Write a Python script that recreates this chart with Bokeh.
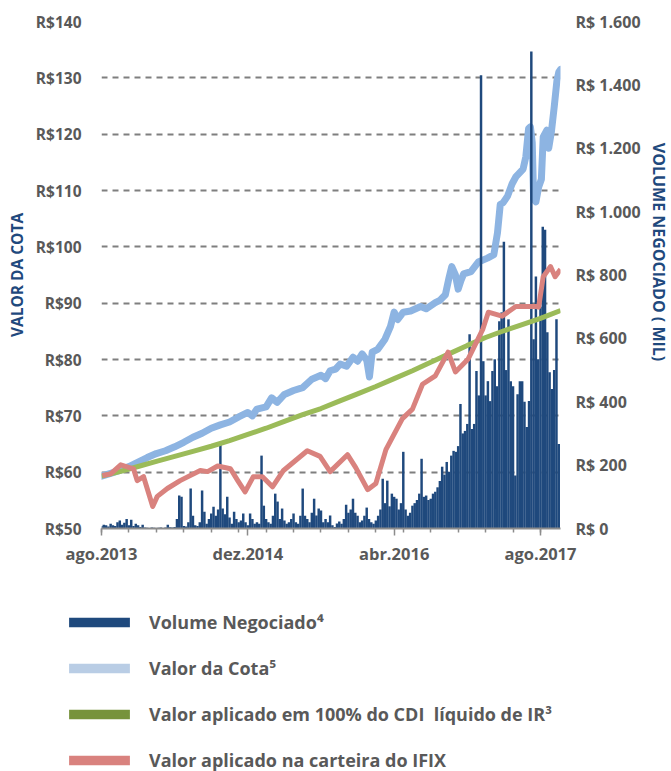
import math
from bokeh.plotting import figure
from bokeh.layouts import column, row
from bokeh.models import (Range1d, LinearAxis, FixedTicker, Legend, LegendItem, Label)
from bokeh.embed import file_html
from bokeh.resources import INLINE

# ---------------- data ----------------
# x axis: months since ago.2013
x_tick_months = [0, 16, 32, 48]
x_tick_labels = ["ago.2013", "dez.2014", "abr.2016", "ago.2017"]
x_minor_months = [0, 3, 6, 9, 12, 15, 18, 21, 24, 27, 30, 33, 36, 39, 42, 45, 48]

left_ticks = [50, 60, 70, 80, 90, 100, 110, 120, 130, 140]
left_labels = ["R$50", "R$60", "R$70", "R$80", "R$90", "R$100", "R$110", "R$120", "R$130", "R$140"]
right_ticks = [0, 200, 400, 600, 800, 1000, 1200, 1400, 1600]
right_labels = ["R$ 0", "R$ 200", "R$ 400", "R$ 600", "R$ 800", "R$ 1.000", "R$ 1.200", "R$ 1.400", "R$ 1.600"]

# weekly traded volume (R$ mil), one value per week from ago.2013
volume = [
    8, 12, 10, 6, 15, 10, 8, 20, 25, 12, 18, 30, 10, 28, 8, 15,
    10, 5, 12, 3, 2, 0, 3, 2, 0, 2, 3, 1,
    3, 12, 4, 3, 5, 30, 104, 100,
    8, 6, 20, 126, 40, 10, 8, 20, 120, 53, 15, 30,
    47, 69, 40, 60, 274, 63, 45, 100, 35, 15, 53, 30,
    20, 25, 47, 20, 10, 47, 30, 15, 20, 15, 230, 72,
    30, 20, 15, 40, 110, 85, 30, 63, 25, 15, 20, 30,
    47, 20, 15, 40, 126, 40, 30, 20, 50, 94, 41, 63,
    57, 20, 30, 20, 41, 10, 5, 16, 22, 15, 30, 75,
    50, 60, 94, 50, 40, 20, 25, 40, 66, 30, 20, 15,
    25, 40, 60, 157, 80, 151, 70, 110, 100, 94, 60, 80,
    242, 60, 40, 50, 72, 80, 90, 110, 220, 100, 104, 90,
    94, 110, 116, 130, 150, 195, 170, 210, 179, 230, 245, 242,
    260, 393, 300, 308, 330, 613, 314, 330, 497, 420, 1430, 528,
    420, 465, 402, 497, 534, 449, 654, 682, 905, 500, 660, 465,
    449, 167, 424, 465, 465, 400, 320, 402, 1505, 597, 795, 534,
    700, 952, 943, 619, 493, 440, 500, 660, 267,
]
volume_month = [i * 0.25 for i in range(len(volume))]

cota_month = [0, 1, 2, 3, 4, 5, 6, 7, 8, 9, 10, 11, 12, 13, 14, 15, 16, 16.5, 17, 18,
              18.6, 19.2, 20, 21, 22, 23, 24, 24.5, 25, 25.6, 26.1, 26.8, 27.5, 28, 28.5,
              29, 29.3, 29.6, 30.2, 31.0, 31.6, 32.0, 32.4, 33, 33.8, 34.9, 35.5, 36.5,
              37.0, 37.6, 38.0, 38.3, 38.7, 39.0, 39.3, 39.6, 40.4, 41.2, 42.2, 42.9,
              43.3, 43.6, 43.9, 44.4, 44.9, 45.3, 46.1, 46.4, 46.7, 46.9, 47.1, 47.25,
              47.5, 47.8, 48.1, 48.3, 48.7, 48.9, 49.2, 49.5, 49.8, 50.0, 50.2]
cota_value = [59.3, 59.8, 60.3, 61.0, 61.8, 62.6, 63.3, 63.8, 64.5, 65.3, 66.2, 66.9, 67.8,
              68.4, 68.9, 69.8, 70.6, 70.0, 71.2, 71.6, 73.2, 72.4, 73.8, 74.5, 75.0, 76.5,
              77.2, 76.6, 78.0, 78.3, 79.2, 78.8, 80.4, 79.7, 81.0, 79.9, 76.9, 81.3, 81.8,
              83.6, 85.9, 88.4, 87.1, 88.4, 88.6, 89.4, 89.0, 90.1, 90.5, 91.5, 94.5, 96.5,
              95.0, 92.5, 94.0, 95.2, 95.6, 97.3, 98.0, 98.6, 102.5, 107.5, 107.8, 109.0,
              111.2, 112.4, 113.8, 116.0, 121.0, 121.3, 118.5, 108.5, 108.0, 110.6, 112.0,
              119.5, 120.7, 117.5, 120.5, 124.8, 129.5, 131.0, 131.5]

cdi_month = [0, 2, 4, 6, 8, 10, 12, 14, 16, 18, 20, 22, 24, 26, 28, 30, 32, 34, 36, 38,
             40, 42, 44, 46, 48, 50.2]
cdi_value = [59.3, 60.1, 61.0, 61.9, 62.8, 63.7, 64.6, 65.6, 66.7, 67.8, 69.0, 70.2, 71.3,
             72.6, 73.9, 75.2, 76.6, 78.0, 79.5, 81.0, 82.5, 83.9, 85.1, 86.2, 87.3, 88.7]

ifix_month = [0.1, 1.0, 2.1, 3.5, 3.9, 4.6, 5.6, 6.1, 7.2, 8.6, 10.8, 11.6, 12.7, 14.1,
              14.9, 15.7, 16.6, 17.6, 18.7, 19.9, 22.5, 23.9, 25.0, 26.9, 27.8, 29.1,
              30.0, 31.1, 32.9, 34.0, 35.1, 36.5, 37.9, 38.7, 40.1, 41.7, 42.3, 43.8,
              45.3, 47.5, 47.8, 48.3, 49.1, 49.6, 50.2]
ifix_value = [59.4, 59.7, 61.3, 60.6, 58.5, 59.2, 53.9, 55.7, 57.1, 58.5, 60.3, 60.1, 61.1,
              60.6, 58.5, 56.5, 59.2, 59.2, 57.4, 60.3, 63.8, 62.8, 60.1, 63.1, 60.8, 56.9,
              58.0, 64.0, 69.5, 71.2, 75.6, 77.1, 81.3, 77.8, 80.1, 85.4, 88.4, 87.7, 89.4,
              89.4, 89.3, 94.7, 96.5, 94.7, 96.0]

legend_labels = ["Volume Negociado\u2074", "Valor da Cota\u2075",
                 "Valor aplicado em 100% do CDI  l\u00edquido de IR\u00b3",
                 "Valor aplicado na carteira do IFIX"]

# ---------------- colours / styles ----------------
C_VOL = "#1F497D"
C_COTA = "#8DB4E2"
C_COTA_LEG = "#B9CDE5"
C_CDI = "#9BBB59"
C_CDI_LEG = "#77933C"
C_IFIX = "#D9827E"
TXT = "#595959"
FONT = "Open Sans"

p = figure(width=651, height=567, x_range=Range1d(0, 50.19), y_range=Range1d(50, 140),
           output_backend="svg", toolbar_location=None,
           min_border_left=101, min_border_right=91, min_border_top=21, min_border_bottom=37)
p.frame_align = False
p.outline_line_color = None
p.background_fill_color = "white"
p.border_fill_color = "white"
p.extra_y_ranges = {"vol": Range1d(0, 1600)}

# grid
p.xgrid.visible = False
p.ygrid[0].ticker = FixedTicker(ticks=left_ticks[1:])
p.ygrid.grid_line_color = "#7F7F7F"
p.ygrid.grid_line_width = 1.8
p.ygrid.grid_line_dash = "6 5"

# left axis
ya = p.yaxis[0]
ya.ticker = FixedTicker(ticks=left_ticks)
ya.major_label_overrides = {t: l for t, l in zip(left_ticks, left_labels)}
ya.axis_line_color = None
ya.major_tick_line_color = None
ya.minor_tick_line_color = None
ya.major_tick_out = 0
ya.major_label_standoff = 20
ya.major_label_text_font = FONT
ya.major_label_text_font_size = "15.5px"
ya.major_label_text_font_style = "bold"
ya.major_label_text_color = TXT
ya.axis_label = "VALOR DA COTA"
ya.axis_label_standoff = 5
ya.axis_label_text_font = FONT
ya.axis_label_text_font_size = "15.5px"
ya.axis_label_text_font_style = "bold"
ya.axis_label_text_color = C_VOL

# right axis
ra = LinearAxis(y_range_name="vol", ticker=FixedTicker(ticks=right_ticks))
ra.major_label_overrides = {t: l for t, l in zip(right_ticks, right_labels)}
ra.axis_line_color = None
ra.major_tick_line_color = None
ra.minor_tick_line_color = None
ra.major_tick_out = 0
ra.major_label_standoff = 15
ra.major_label_text_font = FONT
ra.major_label_text_font_size = "16px"
ra.major_label_text_font_style = "bold"
ra.major_label_text_color = TXT
p.add_layout(ra, "right")

# bottom axis
xa = p.xaxis[0]
xa.ticker = FixedTicker(ticks=x_tick_months, minor_ticks=x_minor_months)
xa.major_label_overrides = {t: l for t, l in zip(x_tick_months, x_tick_labels)}
xa.axis_line_color = "#8C8C8C"
xa.axis_line_width = 2
xa.major_tick_line_color = "#8C8C8C"
xa.major_tick_line_width = 1.5
xa.minor_tick_line_color = "#8C8C8C"
xa.minor_tick_line_width = 1.5
xa.major_tick_out = 7
xa.major_tick_in = 0
xa.minor_tick_out = 4
xa.minor_tick_in = 0
xa.major_label_standoff = 6
xa.major_label_text_font = FONT
xa.major_label_text_font_size = "16.5px"
xa.major_label_text_font_style = "bold"
xa.major_label_text_color = TXT

# series
p.line(cota_month, cota_value, line_color=C_COTA, line_width=7, line_join="round", line_cap="round")
p.vbar(x=volume_month, top=volume, width=0.27, bottom=0, y_range_name="vol",
       fill_color=C_VOL, line_color=None)
p.line(cdi_month, cdi_value, line_color=C_CDI, line_width=5, line_join="round")
p.line(ifix_month, ifix_value, line_color=C_IFIX, line_width=5, line_join="round")

# ---------------- right-hand axis title strip ----------------
r = figure(width=20, height=567, x_range=Range1d(0, 1), y_range=Range1d(0, 1),
           output_backend="svg", toolbar_location=None,
           x_axis_location=None, y_axis_location=None, min_border=0)
r.frame_align = False
r.outline_line_color = None
r.grid.visible = False
r.add_layout(Label(x=7.3, y=315.5, x_units="screen", y_units="screen",
                   text="VOLUME NEGOCIADO ( MIL)", angle=-math.pi / 2,
                   text_align="center", text_baseline="alphabetic",
                   text_font=FONT, text_font_size="16px", text_font_style="bold",
                   text_color=C_VOL))

# ---------------- legend figure ----------------
q = figure(width=671, height=204, x_range=Range1d(0, 1), y_range=Range1d(0, 1),
           output_backend="svg", toolbar_location=None,
           x_axis_location=None, y_axis_location=None, min_border=0)
q.frame_align = False
q.outline_line_color = None
q.grid.visible = False
leg_colors = [C_VOL, C_COTA_LEG, C_CDI_LEG, C_IFIX]
items = []
for lab, col in zip(legend_labels, leg_colors):
    # legend-only swatch renderer; its single quad lies outside the visible range
    rr = q.quad(left=[-3], right=[-2], top=[-2], bottom=[-3], fill_color=col, line_color=None)
    items.append(LegendItem(label=lab, renderers=[rr]))
legend = Legend(items=items, location=(61, -1.5), orientation="vertical",
                glyph_width=76, glyph_height=12, label_standoff=12, label_height=25,
                spacing=21, padding=0, margin=0, border_line_color=None,
                background_fill_alpha=0, label_text_font=FONT,
                label_text_font_size="18px", label_text_font_style="bold",
                label_text_color=TXT)
q.add_layout(legend)

open("out.html", "w").write(file_html(column(row(p, r, spacing=0), q, spacing=0), INLINE))
